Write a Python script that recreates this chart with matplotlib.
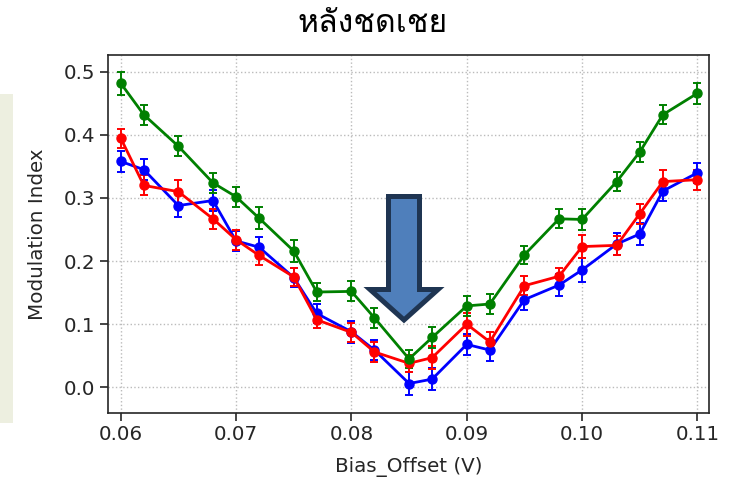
import matplotlib
matplotlib.use("Agg")
import matplotlib.pyplot as plt
from matplotlib import font_manager
from matplotlib.ft2font import FT2Font
from matplotlib.patches import Polygon, Rectangle

# data
bias = [0.060, 0.062, 0.065, 0.068, 0.070, 0.072, 0.075, 0.077, 0.080, 0.082, 0.085,
        0.087, 0.090, 0.092, 0.095, 0.098, 0.100, 0.103, 0.105, 0.107, 0.110]

green = [0.482, 0.432, 0.382, 0.324, 0.302, 0.268, 0.216, 0.151, 0.152, 0.110, 0.045,
         0.079, 0.129, 0.132, 0.210, 0.267, 0.266, 0.326, 0.373, 0.432, 0.466]
green_err = [0.018, 0.016, 0.016, 0.016, 0.016, 0.017, 0.017, 0.015, 0.016, 0.016, 0.014,
             0.016, 0.016, 0.016, 0.014, 0.015, 0.017, 0.015, 0.016, 0.015, 0.017]

red = [0.395, 0.320, 0.310, 0.267, 0.234, 0.209, 0.175, 0.107, 0.087, 0.056, 0.038,
       0.047, 0.100, 0.072, 0.161, 0.176, 0.223, 0.225, 0.275, 0.326, 0.329]
red_err = [0.015, 0.016, 0.018, 0.016, 0.016, 0.015, 0.014, 0.013, 0.015, 0.016, 0.013,
           0.018, 0.018, 0.016, 0.015, 0.013, 0.018, 0.015, 0.016, 0.018, 0.016]

blue = [0.358, 0.345, 0.288, 0.296, 0.232, 0.222, 0.174, 0.117, 0.088, 0.059, 0.006,
        0.013, 0.068, 0.059, 0.139, 0.162, 0.186, 0.227, 0.243, 0.311, 0.340]
blue_err = [0.017, 0.017, 0.018, 0.017, 0.016, 0.016, 0.015, 0.015, 0.017, 0.016, 0.018,
            0.018, 0.017, 0.018, 0.016, 0.017, 0.019, 0.017, 0.018, 0.016, 0.016]

title = "หลังชดเชย"


def thaiFont():
    # look for an installed font with thai glyphs, regular weight first
    found = []
    for f in font_manager.fontManager.ttflist:
        try:
            if 0x0E2B in FT2Font(f.fname).get_charmap():
                found.append(f)
        except Exception:
            pass
    if not found:
        return "DejaVu Sans"
    found.sort(key=lambda f: (f.style != "normal", abs(int(f.weight) - 400) if str(f.weight).isdigit() else 100))
    return found[0].name


W, H = 736, 482
fig = plt.figure(figsize=(W / 100, H / 100), dpi=100)
fig.patch.set_facecolor("white")

# beige panel at left edge of the slide
fig.patches.append(Rectangle((0, 1 - 423 / H), 13 / W, (423 - 94) / H,
                             transform=fig.transFigure, facecolor="#edefe0",
                             edgecolor="none", zorder=0))

ax = fig.add_axes([108 / W, 1 - 413 / H, (709 - 108) / W, (413 - 55) / H])

for y, e, c in ((blue, blue_err, "b"), (red, red_err, "r"), (green, green_err, "g")):
    ax.errorbar(bias, y, yerr=e, color=c, marker="o", markersize=6.5,
                linewidth=2, elinewidth=1.4, capsize=3, capthick=1.4)

ax.set_xlim(0.0589, 0.1110)
ax.set_ylim(-0.0407, 0.5266)
ax.set_xticks([0.06, 0.07, 0.08, 0.09, 0.10, 0.11])
ax.set_yticks([0.0, 0.1, 0.2, 0.3, 0.4, 0.5])
ax.tick_params(labelsize=14.3, colors="#262626", length=5.5, width=1.2)
for s in ax.spines.values():
    s.set_linewidth(1.2)
    s.set_color("#262626")
ax.set_xlabel("Bias_Offset (V)", fontsize=14.3, color="#262626", labelpad=9)
ax.set_ylabel("Modulation Index", fontsize=14.3, color="#262626", labelpad=12)
ax.grid(which="both", color="#bbbbbb", linestyle=":", linewidth=1)

# down arrow drawn on top of the plot
arrow = [(388.5, 196.5), (419.5, 196.5), (419.5, 289.5), (438, 289.5),
         (404, 320), (370, 289.5), (388.5, 289.5)]
arrow = [(x / W, 1 - y / H) for x, y in arrow]
fig.patches.append(Polygon(arrow, closed=True, transform=fig.transFigure,
                           facecolor="#4f7fbb", edgecolor="#1f3552",
                           linewidth=3.6, joinstyle="miter", zorder=5))

fig.text(373 / W, 1 - 24 / H, title, ha="center", va="center", fontsize=23,
         fontweight="normal", family=[thaiFont(), "DejaVu Sans"])

fig.savefig("out.png", dpi=100)
